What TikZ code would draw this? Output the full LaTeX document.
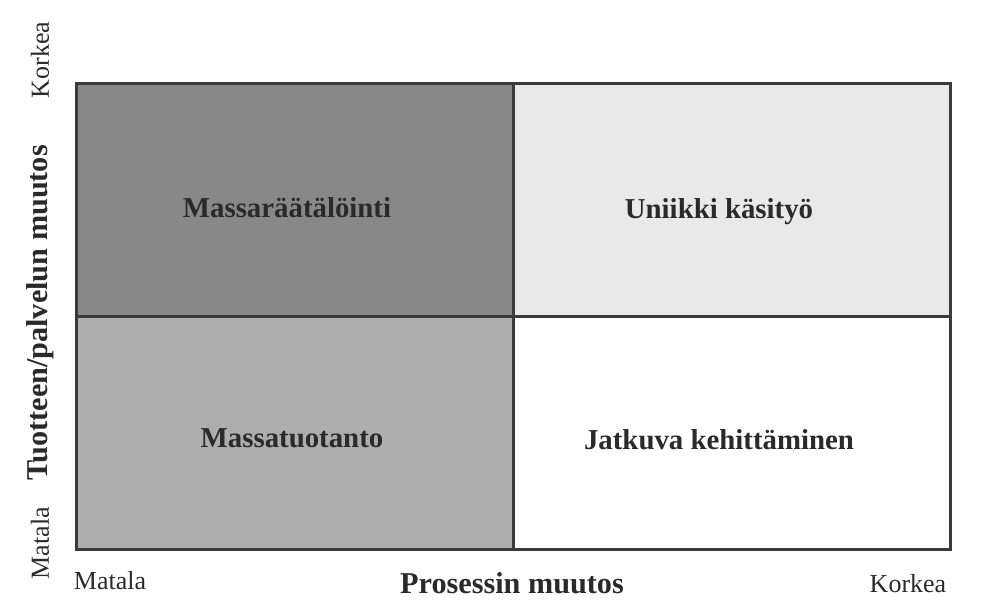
\documentclass[tikz,border=0pt]{standalone}
\usepackage{fontspec}
\setmainfont{Liberation Serif}
\definecolor{frame}{HTML}{3A3A3A}
\definecolor{ink}{HTML}{2A2A2A}
\definecolor{dark}{HTML}{888888}
\definecolor{mid}{HTML}{ADADAD}
\definecolor{pale}{HTML}{E9E9E9}
\begin{document}
\begin{tikzpicture}[x=0.025cm, y=-0.025cm,
  quad/.style = {draw=frame, line width=2pt, minimum width=10.925cm, minimum height=5.825cm, inner sep=0pt, anchor=north west},
  lab/.style = {font=\fontsize{20.5}{24}\selectfont\bfseries, text=ink},
  axis/.style = {font=\fontsize{21.5}{25}\selectfont\bfseries, text=ink},
  tick/.style = {font=\fontsize{18.5}{22}\selectfont, text=ink}]
  \useasboundingbox (0,0) rectangle (1003,601);
  % quadrants
  \node [quad, fill=dark] (tl) at (75,82) {};
  \node [quad, fill=pale] (tr) at (512,82) {};
  \node [quad, fill=mid] (bl) at (75,315) {};
  \node [quad, fill=white] (br) at (512,315) {};
  \node [lab] (massa) at (287,208) {Massaräätälöinti};
  \node [lab] (uniikki) at (719,212) {Uniikki käsityö};
  \node [lab] (tuotanto) at (292,438) {Massatuotanto};
  \node [lab] (jatkuva) at (719,440) {Jatkuva kehittäminen};
  % axes
  \node [axis] (xaxis) at (512,583) {Prosessin muutos};
  \node [tick] (xlow) at (110,581) {Matala};
  \node [tick] (xhigh) at (908,584) {Korkea};
  \node [axis, rotate=90] (yaxis) at (40,313) {Tuotteen/palvelun muutos};
  \node [tick, rotate=90] (ylow) at (40,543) {Matala};
  \node [tick, rotate=90] (yhigh) at (40,60) {Korkea};
\end{tikzpicture}
\end{document}
